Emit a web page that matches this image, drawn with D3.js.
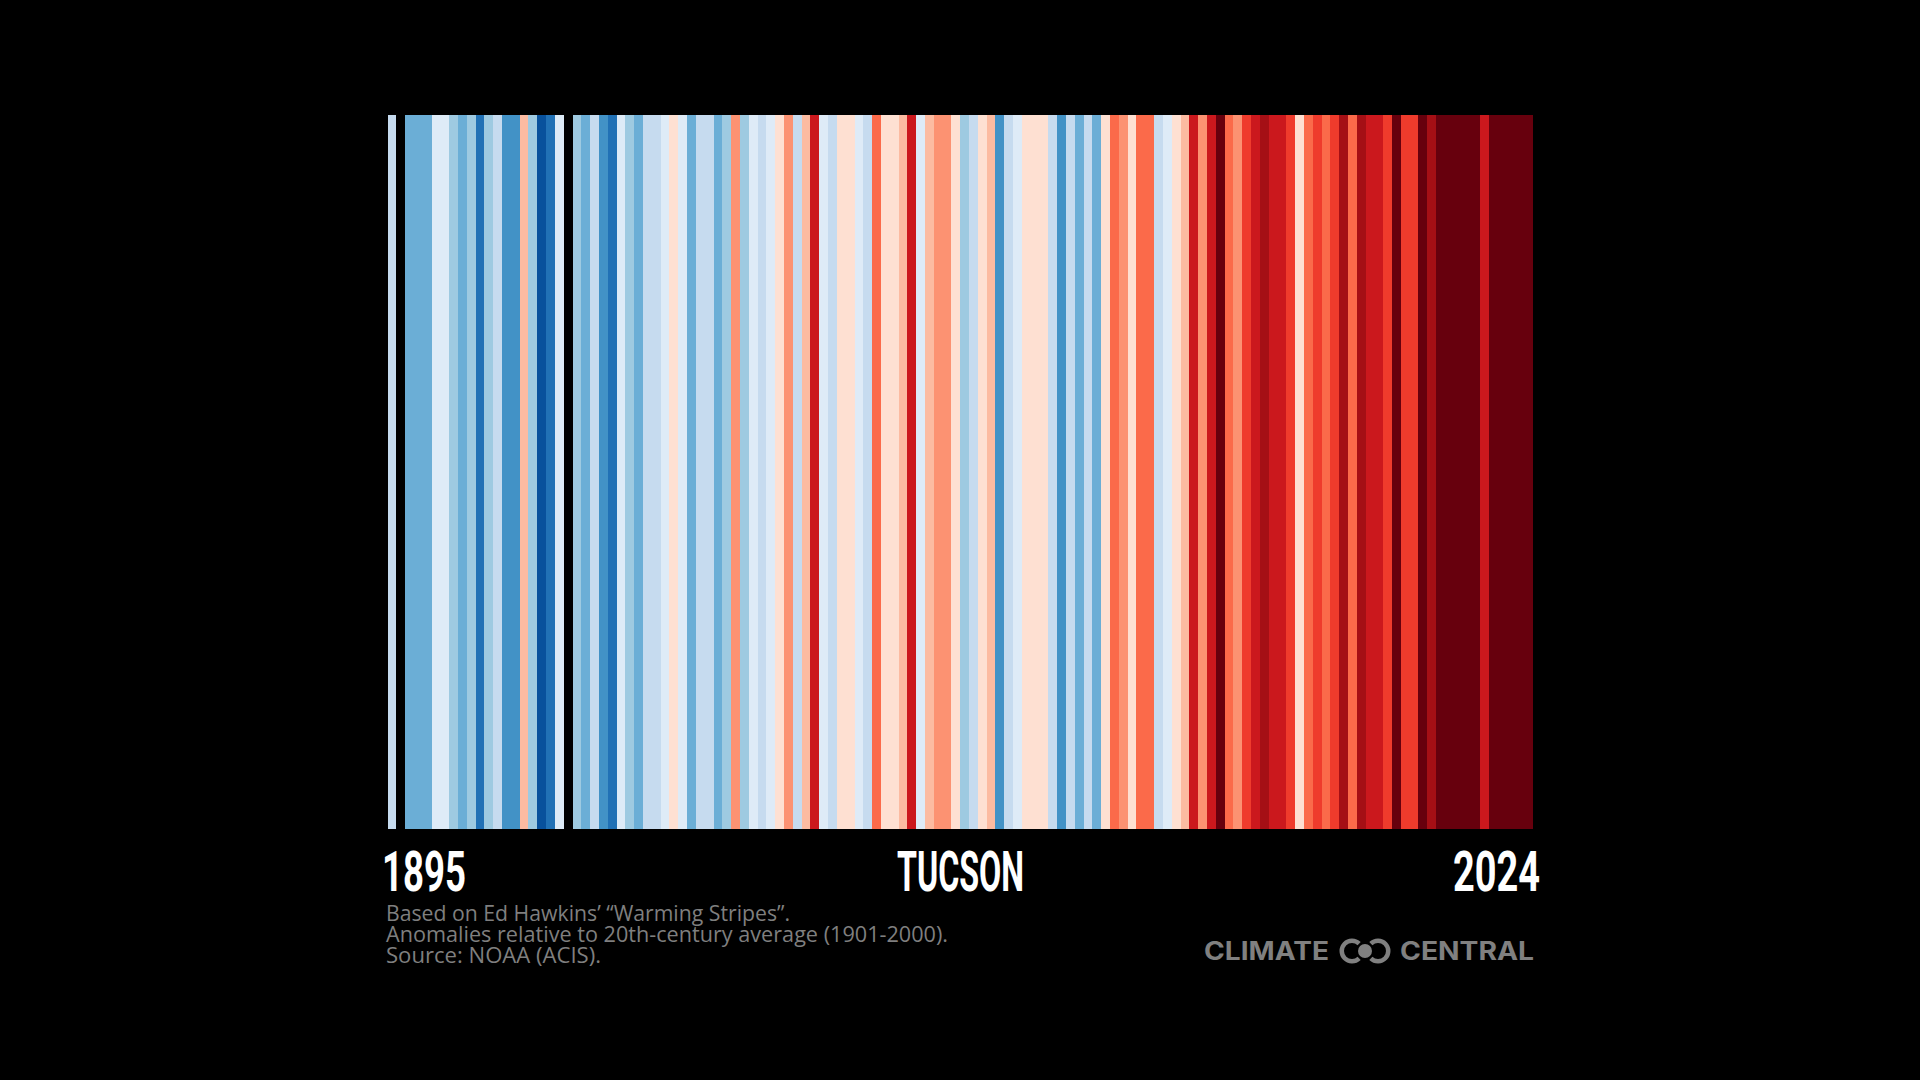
<!DOCTYPE html>
<html>
<head>
<meta charset="utf-8">
<script src="https://cdn.jsdelivr.net/npm/d3@7"></script>
<style>
  html, body { margin: 0; background: #000; }
  svg { display: block; }
</style>
</head>
<body>
<svg width="1920" height="1080"></svg>
<script>
var firstYear = 1895;
var lastYear = 2024;

// yearly anomalies read off the stripes, in order from 1895; null = no data (drawn black)
var anomalies = [
    -0.75, null, -1.75, -1.75, -1.75, -0.25, -0.25, -1.25, -1.75, -1.25,
    -2.75, -1.25, -0.75, -2.25, -2.25, 0.75, -1.25, -3.25, -2.75, -0.25,
    null, -1.25, -1.75, -0.75, -2.25, -2.75, -0.25, -1.25, -1.75, -0.75,
    -0.75, -0.25, 0.25, -0.25, -1.75, -0.75, -0.75, -1.75, -1.25, 1.25,
    -1.25, -0.25, -0.75, -0.25, 0.25, 1.25, -0.75, 0.75, 2.75, -0.25,
    -0.75, 0.25, 0.25, -0.25, -0.75, 1.75, 0.25, 0.25, 0.75, 2.75,
    -0.25, 0.75, 1.25, 1.25, 0.25, -1.25, -0.75, 0.25, 0.75, -2.25,
    -0.75, -0.25, 0.25, 0.25, 0.25, -0.75, -2.25, -0.75, -1.75, -0.75,
    -1.75, 0.25, 1.75, 1.25, 0.25, 1.75, 1.75, -0.75, -0.25, 0.25,
    0.75, 2.75, 1.25, 2.75, 3.75, 1.75, 1.25, 2.25, 2.75, 3.25,
    2.75, 2.75, 2.25, 0.25, 1.75, 2.25, 1.75, 2.25, 3.25, 1.75,
    3.25, 2.75, 2.75, 2.25, 3.75, 2.25, 2.25, 3.75, 3.25, 3.75,
    3.75, 3.75, 3.75, 3.75, 2.75, 3.75, 3.75, 3.75, 3.75, 3.75
];

var stripeColors = ["#08306b", "#08519c", "#2171b5", "#4292c6", "#6baed6", "#9ecae1", "#c6dbef", "#deebf7",
    "#fee0d2", "#fcbba1", "#fc9272", "#fb6a4a", "#ef3b2c", "#cb181d", "#a50f15", "#67000d"];

var city = "TUCSON";
var notes = [
    "Based on Ed Hawkins\u2019 \u201cWarming Stripes\u201d.",
    "Anomalies relative to 20th-century average (1901-2000).",
    "Source: NOAA (ACIS)."
];
var logoWords = ["CLIMATE", "CENTRAL"];

var years = d3.range(firstYear, lastYear + 1);
var stripes = years.map(function (y, i) {
    return { year: y, anomaly: anomalies[i] };
});

var svg = d3.select("svg");

var x = d3.scaleBand()
    .domain(years)
    .range([387.5, 1533]);

var color = d3.scaleQuantize()
    .domain([-4, 4])
    .range(stripeColors);

svg.selectAll(".stripe")
    .data(stripes.filter(function (d) { return d.anomaly !== null; }))
    .enter().append("rect")
    .attr("class", "stripe")
    .attr("x", function (d) { return x(d.year); })
    .attr("y", 115)
    .attr("width", x.bandwidth())
    .attr("height", 714)
    .attr("shape-rendering", "crispEdges")
    .attr("fill", function (d) { return color(d.anomaly); });

// big condensed labels: no condensed display face here, so squeeze Roboto to the measured widths
var headings = [
    { text: String(firstYear), x: 382, width: 84 },
    { text: city, x: 897, width: 127 },
    { text: String(lastYear), x: 1453, width: 87 }
];

svg.selectAll(".heading")
    .data(headings)
    .enter().append("text")
    .attr("class", "heading")
    .attr("x", function (d) { return d.x; })
    .attr("y", 891)
    .attr("textLength", function (d) { return d.width; })
    .attr("lengthAdjust", "spacingAndGlyphs")
    .style("font-family", "Roboto")
    .style("font-weight", 700)
    .style("font-size", "55px")
    .style("fill", "#fff")
    .text(function (d) { return d.text; });

var noteWidths = [404, 562, 215];

svg.selectAll(".note")
    .data(notes)
    .enter().append("text")
    .attr("class", "note")
    .attr("x", 386)
    .attr("y", function (d, i) { return 921 + i * 21; })
    .attr("textLength", function (d, i) { return noteWidths[i]; })
    .attr("lengthAdjust", "spacingAndGlyphs")
    .style("font-family", "Open Sans")
    .style("font-size", "21px")
    .style("fill", "#7f7f7f")
    .text(function (d) { return d; });

// logo
var logoGray = "#808080";
var logoPos = [{ x: 1204, width: 125 }, { x: 1400, width: 134 }];

svg.selectAll(".logo-word")
    .data(logoWords)
    .enter().append("text")
    .attr("class", "logo-word")
    .attr("x", function (d, i) { return logoPos[i].x; })
    .attr("y", 960)
    .attr("textLength", function (d, i) { return logoPos[i].width; })
    .attr("lengthAdjust", "spacingAndGlyphs")
    .style("font-family", "Inter")
    .style("font-weight", 700)
    .style("font-size", "25px")
    .style("fill", logoGray)
    .text(function (d) { return d; });

// two C rings facing each other around a disc
var ring = d3.arc().innerRadius(8).outerRadius(12.5);
var gap = 0.8;

var logo = svg.append("g").attr("transform", "translate(1365,951)");

logo.append("path")
    .attr("transform", "translate(-13,0)")
    .attr("fill", logoGray)
    .attr("d", ring({ startAngle: Math.PI / 2 + gap, endAngle: 2.5 * Math.PI - gap }));

logo.append("path")
    .attr("transform", "translate(13,0)")
    .attr("fill", logoGray)
    .attr("d", ring({ startAngle: 1.5 * Math.PI + gap, endAngle: 3.5 * Math.PI - gap }));

logo.append("circle")
    .attr("r", 7)
    .attr("fill", logoGray);
</script>
</body>
</html>
